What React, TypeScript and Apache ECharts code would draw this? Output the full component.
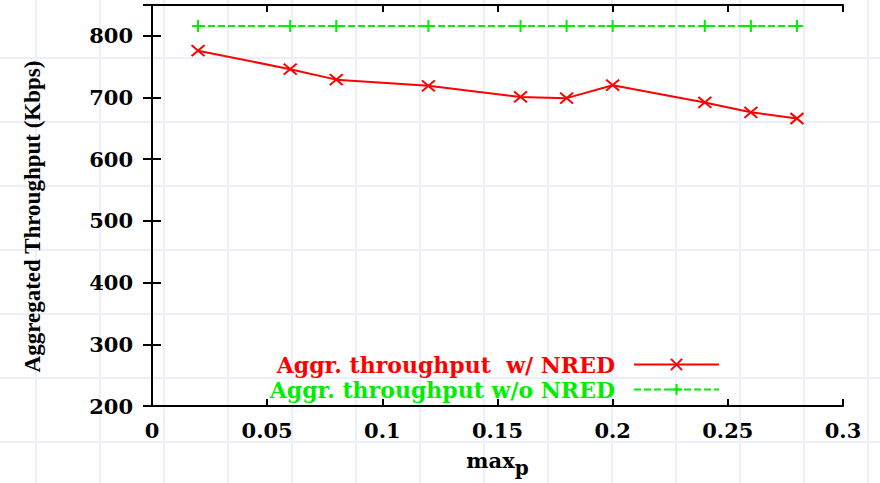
import React, { useEffect, useRef } from "react";
import * as echarts from "echarts";

const xValues = [0.02, 0.06, 0.08, 0.12, 0.16, 0.18, 0.2, 0.24, 0.26, 0.28];
const withNred = [776, 746, 729, 719, 701, 699, 720, 692, 676, 666];
const withoutNred = [816, 816, 816, 816, 816, 816, 816, 816, 816, 816];
const seriesNames = ["Aggr. throughput  w/ NRED", "Aggr. throughput w/o NRED"];
const xTickLabels = ["0", "0.05", "0.1", "0.15", "0.2", "0.25", "0.3"];
const yTickLabels = ["200", "300", "400", "500", "600", "700", "800"];

const LABEL_FONT = "DejaVu Serif";
const CROSS = "path://M0,0L10,10M10,0L0,10";
const PLUS = "path://M5,0L5,10M0,5L10,5";

export default function App() {
  const ref = useRef<HTMLDivElement>(null);
  useEffect(() => {
    if (!ref.current) return;
    const chart = echarts.init(ref.current, null, { renderer: "svg" });

    const bg: any[] = [];
    for (let k = 0; k < 14; k++) {
      const x = 36 + 64 * k;
      bg.push({ type: "line", z: -10, silent: true, shape: { x1: x, y1: 0, x2: x, y2: 483 }, style: { stroke: "#ebeffc", lineWidth: 2 } });
    }
    for (let k = 0; k < 7; k++) {
      const y = 58 + 64 * k;
      bg.push({ type: "line", z: -10, silent: true, shape: { x1: 0, y1: y, x2: 880, y2: y }, style: { stroke: "#ebeffc", lineWidth: 2 } });
    }

    const axisCommon = {
      type: "value" as const,
      axisLine: { show: true, lineStyle: { color: "#000", width: 2 } },
      splitLine: { show: false },
    };

    chart.setOption({
      animation: false,
      backgroundColor: "#fff",
      graphic: bg,
      grid: { left: 152, right: 37, top: 5, bottom: 77, containLabel: false, outerBoundsMode: "none" },
      legend: {
        orient: "vertical",
        right: 160,
        top: 353,
        padding: 0,
        align: "right",
        itemWidth: 85,
        itemHeight: 14,
        itemGap: 2,
        textStyle: {
          fontFamily: LABEL_FONT,
          fontWeight: "bold",
          fontSize: 22,
          lineHeight: 23,
          padding: [0, 14, 0, 0],
        },
        data: [
          { name: seriesNames[0], textStyle: { color: "#ff0000" } },
          { name: seriesNames[1], textStyle: { color: "#00ee00" } },
        ],
      },
      xAxis: [
        {
          ...axisCommon,
          min: 0,
          max: 0.3,
          interval: 0.05,
          axisTick: { show: true, inside: true, length: 7, lineStyle: { color: "#000", width: 2 } },
          axisLabel: {
            margin: 14,
            color: "#000",
            fontFamily: LABEL_FONT,
            fontWeight: "bold",
            fontSize: 21,
            formatter: (v: number) => xTickLabels[Math.round(v / 0.05)] ?? "",
          },
          name: "{a|max}{b|p}",
          nameLocation: "middle",
          nameGap: 36,
          nameTextStyle: {
            rich: {
              a: { fontFamily: LABEL_FONT, fontWeight: "bold", fontSize: 21, color: "#000" },
              b: { fontFamily: LABEL_FONT, fontWeight: "bold", fontSize: 20, color: "#000", padding: [16, 0, 0, 0] },
            },
          },
        },
        {
          ...axisCommon,
          position: "top",
          min: 0,
          max: 0.3,
          interval: 0.05,
          axisTick: { show: true, inside: true, length: 7, lineStyle: { color: "#000", width: 2 } },
          axisLabel: { show: false },
        },
      ],
      yAxis: [
        {
          ...axisCommon,
          min: 200,
          max: 850,
          interval: 100,
          axisTick: { show: true, inside: true, length: 9, lineStyle: { color: "#000", width: 2 } },
          axisLabel: {
            margin: 19,
            color: "#000",
            fontFamily: LABEL_FONT,
            fontWeight: "bold",
            fontSize: 21,
            formatter: (v: number) => yTickLabels[Math.round((v - 200) / 100)] ?? "",
          },
          name: "Aggregated Throughput (Kbps)",
          nameLocation: "middle",
          nameGap: 108,
          nameTextStyle: {
            fontFamily: "Liberation Serif",
            fontWeight: "bold",
            fontSize: 23,
            color: "#000",
            padding: [0, 22, 0, 0],
          },
        },
        {
          ...axisCommon,
          position: "right",
          min: 200,
          max: 850,
          interval: 100,
          axisTick: { show: true, inside: true, length: 9, lineStyle: { color: "#000", width: 2 } },
          axisLabel: { show: false },
        },
      ],
      series: [
        {
          name: seriesNames[0],
          type: "line",
          data: xValues.map((x, i) => [x, withNred[i]]),
          symbol: CROSS,
          symbolSize: [13, 11],
          showSymbol: true,
          lineStyle: { color: "#ff0000", width: 2 },
          itemStyle: { color: "#ff0000", borderColor: "#ff0000", borderWidth: 2 },
          z: 3,
        },
        {
          name: seriesNames[1],
          type: "line",
          data: xValues.map((x, i) => [x, withoutNred[i]]),
          symbol: PLUS,
          symbolSize: [12, 12],
          showSymbol: true,
          lineStyle: { color: "#00ee00", width: 2, type: [7, 3] },
          itemStyle: { color: "#00ee00", borderColor: "#00ee00", borderWidth: 2 },
          z: 2,
        },
      ],
    });
    return () => chart.dispose();
  }, []);
  return <div ref={ref} style={{ position: "fixed", left: 0, top: 0, width: 880, height: 483 }} />;
}
